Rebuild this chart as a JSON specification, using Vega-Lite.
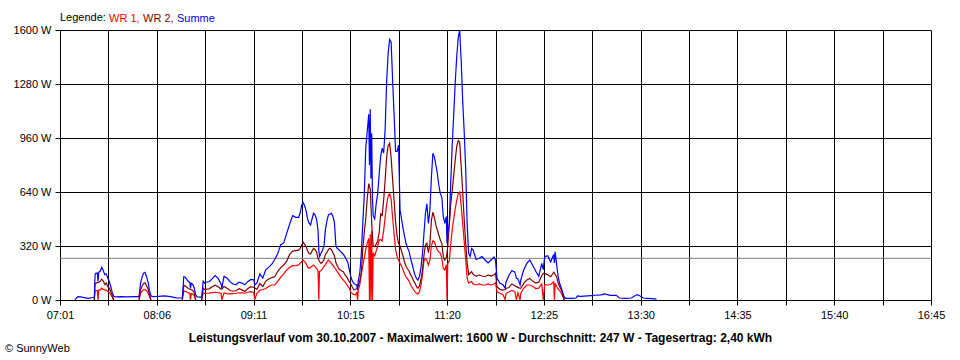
{
 "$schema": "https://vega.github.io/schema/vega-lite/v6.json",
 "width": 871,
 "height": 270,
 "autosize": {"type": "none"},
 "padding": {"left": 60, "top": 30, "right": 29, "bottom": 60},
 "background": "white",
 "config": {
  "font": "Liberation Sans",
  "view": {"stroke": null},
  "axis": {"gridColor": "black", "gridOpacity": 1, "gridWidth": 1, "tickColor": "black", "tickSize": 5, "tickWidth": 1, "domainColor": "black", "domainWidth": 1, "labelColor": "black", "labelFontSize": 11, "labelFont": "Liberation Sans"},
  "axisX": {"labelPadding": 4, "labelFlush": false},
  "axisY": {"labelPadding": 4}
 },
 "title": {"text": "© SunnyWeb", "orient": "bottom", "anchor": "start", "frame": "group", "dx": -55, "offset": 0, "fontSize": 11, "fontWeight": "normal", "color": "black", "font": "Liberation Sans"},
 "data": {"values": [
  {"t":431,"sum":3},{"t":433,"sum":20},{"t":435,"sum":18},{"t":437,"sum":14},{"t":440,"sum":10},{"t":443,"sum":15},
  {"t":444,"wr1":0,"wr2":0,"sum":16},{"t":444.5,"wr1":50,"wr2":95,"sum":150},{"t":445,"wr1":55,"wr2":100,"sum":158},{"t":446,"wr1":57,"wr2":103,"sum":160},{"t":446.5,"wr1":0,"wr2":103,"sum":110},{"t":447,"wr1":60,"wr2":105,"sum":165},{"t":448,"wr1":60,"wr2":112,"sum":170},{"t":449,"wr1":70,"wr2":123,"sum":194},{"t":450,"wr1":63,"wr2":112,"sum":175},{"t":451,"wr1":60,"wr2":92,"sum":150},{"t":452,"wr1":57,"wr2":100,"sum":155},{"t":453,"wr1":50,"wr2":80,"sum":130},{"t":454,"wr1":45,"wr2":70,"sum":112},{"t":455,"wr1":32,"wr2":50,"sum":80},{"t":456,"wr1":18,"wr2":28,"sum":45},{"t":457,"wr1":0,"wr2":0,"sum":22},
  {"t":458,"sum":18},{"t":462,"sum":20},{"t":466,"sum":18},{"t":470,"sum":20},
  {"t":474,"wr1":0,"wr2":0,"sum":20},{"t":475,"wr1":40,"wr2":60,"sum":100},{"t":476,"wr1":53,"wr2":82,"sum":135},{"t":477,"wr1":60,"wr2":98,"sum":158},{"t":478,"wr1":62,"wr2":102,"sum":164},{"t":479,"wr1":55,"wr2":85,"sum":140},{"t":480,"wr1":42,"wr2":66,"sum":108},{"t":481,"wr1":21,"wr2":34,"sum":55},{"t":482,"wr1":0,"wr2":0,"sum":25},
  {"t":483,"sum":20},{"t":487,"sum":22},{"t":491,"sum":24},{"t":495,"sum":20},{"t":499,"sum":13},{"t":502,"sum":12},
  {"t":503,"wr1":0,"wr2":0,"sum":12},{"t":504,"wr1":52,"wr2":86,"sum":138},{"t":505,"wr1":51,"wr2":84,"sum":135},{"t":506,"wr1":47,"wr2":75,"sum":122},{"t":507,"wr1":42,"wr2":68,"sum":110},{"t":508,"wr1":40,"wr2":64,"sum":104},{"t":508.5,"wr1":0,"wr2":64,"sum":70},{"t":509,"wr1":38,"wr2":62,"sum":100},{"t":510,"wr1":35,"wr2":57,"sum":92},{"t":511,"wr1":27,"wr2":43,"sum":70},{"t":512,"wr1":0,"wr2":0,"sum":30},
  {"t":513,"sum":18},{"t":515,"sum":17},
  {"t":516,"wr1":0,"wr2":0,"sum":18},{"t":517,"wr1":42,"wr2":70,"sum":112},{"t":518,"wr1":38,"wr2":62,"sum":100},{"t":519,"wr1":40,"wr2":65,"sum":105},{"t":521,"wr1":41,"wr2":66,"sum":108},{"t":523,"wr1":44,"wr2":78,"sum":125},{"t":525,"wr1":46,"wr2":88,"sum":145},{"t":527,"wr1":43,"wr2":78,"sum":128},{"t":529,"wr1":40,"wr2":65,"sum":95},{"t":529.5,"wr1":0,"wr2":65,"sum":70},{"t":531,"wr1":42,"wr2":80,"sum":140},{"t":533,"wr1":38,"wr2":70,"sum":130},{"t":535,"wr1":36,"wr2":56,"sum":109},{"t":537,"wr1":38,"wr2":52,"sum":95},{"t":539,"wr1":40,"wr2":55,"sum":90},{"t":541,"wr1":43,"wr2":67,"sum":105},{"t":543,"wr1":42,"wr2":60,"sum":100},{"t":545,"wr1":40,"wr2":50,"sum":90},{"t":547,"wr1":46,"wr2":68,"sum":110},{"t":549,"wr1":49,"wr2":79,"sum":122},{"t":551,"wr1":45,"wr2":74,"sum":120},{"t":551.5,"wr1":0,"wr2":72,"sum":90},{"t":553,"wr1":40,"wr2":63,"sum":100},
  {"t":555,"wr1":58,"wr2":98,"sum":155},{"t":557,"wr1":62,"wr2":80,"sum":130},{"t":559,"wr1":68,"wr2":112,"sum":180},{"t":561,"wr1":80,"wr2":125,"sum":195},{"t":563,"wr1":89,"wr2":133,"sum":212},{"t":565,"wr1":89,"wr2":138,"sum":240},{"t":567,"wr1":110,"wr2":170,"sum":275},{"t":569,"wr1":135,"wr2":192,"sum":328},{"t":571,"wr1":155,"wr2":207,"sum":338},{"t":573,"wr1":178,"wr2":230,"sum":395},{"t":575,"wr1":192,"wr2":270,"sum":450},{"t":577,"wr1":205,"wr2":290,"sum":500},{"t":579,"wr1":203,"wr2":293,"sum":490},{"t":581,"wr1":208,"wr2":295,"sum":490},{"t":582,"wr1":217,"wr2":306,"sum":514},{"t":583,"wr1":228,"wr2":325,"sum":560},{"t":584,"wr1":237,"wr2":344,"sum":577},{"t":585,"wr1":228,"wr2":330,"sum":560},{"t":586,"wr1":217,"wr2":316,"sum":530},{"t":587,"wr1":195,"wr2":290,"sum":480},{"t":588,"wr1":188,"wr2":275,"sum":455},{"t":589,"wr1":194,"wr2":272,"sum":445},{"t":590,"wr1":200,"wr2":290,"sum":480},{"t":591,"wr1":207,"wr2":306,"sum":514},{"t":592,"wr1":198,"wr2":298,"sum":505},{"t":593,"wr1":188,"wr2":286,"sum":480},{"t":594,"wr1":175,"wr2":245,"sum":415},{"t":594.5,"wr1":0,"wr2":237,"sum":300},{"t":595,"wr1":168,"wr2":228,"sum":257},{"t":596,"wr1":175,"wr2":217,"sum":277},{"t":597,"wr1":185,"wr2":225,"sum":295},{"t":598,"wr1":198,"wr2":240,"sum":320},{"t":599,"wr1":210,"wr2":270,"sum":420},{"t":600,"wr1":225,"wr2":282,"sum":470},
  {"t":601,"wr1":237,"wr2":300,"sum":505},{"t":602,"wr1":228,"wr2":306,"sum":510},{"t":603,"wr1":217,"wr2":298,"sum":514},{"t":604,"wr1":205,"wr2":280,"sum":495},{"t":605,"wr1":192,"wr2":262,"sum":460},{"t":606,"wr1":182,"wr2":222,"sum":320},{"t":607,"wr1":165,"wr2":200,"sum":305},{"t":608,"wr1":155,"wr2":185,"sum":298},{"t":609,"wr1":140,"wr2":178,"sum":288},{"t":610,"wr1":128,"wr2":172,"sum":280},{"t":611,"wr1":118,"wr2":168,"sum":270},{"t":612,"wr1":108,"wr2":150,"sum":257},{"t":613,"wr1":95,"wr2":140,"sum":240},{"t":614,"wr1":82,"wr2":125,"sum":222},{"t":615,"wr1":70,"wr2":108,"sum":180},{"t":616,"wr1":45,"wr2":95,"sum":138},{"t":617,"wr1":38,"wr2":75,"sum":112},{"t":618,"wr1":32,"wr2":60,"sum":99},{"t":619,"wr1":30,"wr2":62,"sum":92},{"t":620,"wr1":45,"wr2":69,"sum":89},{"t":620.5,"wr1":0,"wr2":75,"sum":60},{"t":621,"wr1":60,"wr2":85,"sum":115},{"t":622,"wr1":89,"wr2":115,"sum":160},{"t":623,"wr1":150,"wr2":160,"sum":270},{"t":624,"wr1":200,"wr2":300,"sum":450},{"t":625,"wr1":250,"wr2":400,"sum":620},{"t":626,"wr1":300,"wr2":480,"sum":900},{"t":627,"wr1":336,"wr2":600,"sum":1000},{"t":628,"wr1":365,"wr2":690,"sum":1100},{"t":628.5,"wr1":0,"wr2":670,"sum":800},{"t":629,"wr1":390,"wr2":660,"sum":1130},{"t":629.5,"wr1":0,"wr2":560,"sum":720},{"t":630,"wr1":410,"wr2":454,"sum":988},{"t":630.5,"wr1":0,"wr2":380,"sum":600},
  {"t":631,"wr1":280,"wr2":320,"sum":500},{"t":632,"wr1":260,"wr2":316,"sum":480},{"t":633,"wr1":290,"wr2":330,"sum":570},{"t":634,"wr1":320,"wr2":350,"sum":630},{"t":635,"wr1":356,"wr2":400,"sum":745},{"t":636,"wr1":358,"wr2":510,"sum":850},{"t":637,"wr1":350,"wr2":500,"sum":900},{"t":638,"wr1":410,"wr2":590,"sum":870},{"t":639,"wr1":490,"wr2":711,"sum":1010},{"t":640,"wr1":565,"wr2":845,"sum":1290},{"t":641,"wr1":615,"wr2":915,"sum":1460},{"t":642,"wr1":632,"wr2":929,"sum":1545},{"t":643,"wr1":600,"wr2":845,"sum":1530},{"t":644,"wr1":490,"wr2":715,"sum":1310},{"t":645,"wr1":390,"wr2":590,"sum":1100},{"t":646,"wr1":300,"wr2":460,"sum":880},{"t":647,"wr1":260,"wr2":380,"sum":880},{"t":648,"wr1":235,"wr2":336,"sum":918},{"t":649,"wr1":217,"wr2":318,"sum":533},{"t":650,"wr1":200,"wr2":290,"sum":480},
  {"t":651,"wr1":180,"wr2":260,"sum":425},{"t":652,"wr1":155,"wr2":225,"sum":380},{"t":653,"wr1":138,"wr2":200,"sum":336},{"t":654,"wr1":125,"wr2":185,"sum":310},{"t":655,"wr1":112,"wr2":172,"sum":290},{"t":656,"wr1":90,"wr2":150,"sum":250},{"t":657,"wr1":77,"wr2":138,"sum":217},{"t":658,"wr1":62,"wr2":115,"sum":180},{"t":659,"wr1":50,"wr2":100,"sum":148},{"t":660,"wr1":40,"wr2":80,"sum":128},{"t":661,"wr1":36,"wr2":70,"sum":118},{"t":662,"wr1":49,"wr2":83,"sum":140},{"t":663,"wr1":85,"wr2":120,"sum":190},{"t":664,"wr1":150,"wr2":175,"sum":270},{"t":665,"wr1":230,"wr2":260,"sum":390},{"t":666,"wr1":245,"wr2":325,"sum":510},{"t":667,"wr1":237,"wr2":336,"sum":570},{"t":668,"wr1":207,"wr2":280,"sum":454},{"t":669,"wr1":235,"wr2":330,"sum":530},{"t":670,"wr1":320,"wr2":470,"sum":720},{"t":671,"wr1":350,"wr2":520,"sum":870},{"t":672,"wr1":345,"wr2":490,"sum":850},{"t":673,"wr1":320,"wr2":445,"sum":800},{"t":674,"wr1":296,"wr2":415,"sum":750},{"t":675,"wr1":285,"wr2":385,"sum":680},{"t":676,"wr1":277,"wr2":355,"sum":630},{"t":677,"wr1":250,"wr2":336,"sum":610},{"t":678,"wr1":188,"wr2":257,"sum":494},{"t":679,"wr1":178,"wr2":237,"sum":454},{"t":680,"wr1":210,"wr2":250,"sum":494},
  {"t":680.5,"wr1":0,"wr2":280,"sum":336},{"t":681,"wr1":217,"wr2":320,"sum":400},{"t":682,"wr1":230,"wr2":440,"sum":450},{"t":683,"wr1":330,"wr2":570,"sum":700},{"t":684,"wr1":420,"wr2":650,"sum":920},{"t":685,"wr1":480,"wr2":740,"sum":1100},{"t":686,"wr1":540,"wr2":830,"sum":1290},{"t":687,"wr1":590,"wr2":910,"sum":1440},{"t":688,"wr1":630,"wr2":945,"sum":1555},{"t":689,"wr1":640,"wr2":935,"sum":1600},{"t":689.5,"wr1":600,"wr2":860,"sum":1500},{"t":690,"wr1":560,"wr2":790,"sum":1420},{"t":691,"wr1":450,"wr2":640,"sum":1180},{"t":692,"wr1":350,"wr2":480,"sum":1000},{"t":693,"wr1":240,"wr2":340,"sum":780},{"t":694,"wr1":130,"wr2":220,"sum":450},{"t":695,"wr1":100,"wr2":150,"sum":275},{"t":696,"wr1":105,"wr2":160,"sum":258},{"t":697,"wr1":109,"wr2":168,"sum":305},{"t":698,"wr1":95,"wr2":152,"sum":296},{"t":700,"wr1":89,"wr2":140,"sum":240},{"t":702,"wr1":95,"wr2":148,"sum":247},{"t":704,"wr1":89,"wr2":142,"sum":257},{"t":706,"wr1":89,"wr2":138,"sum":237},{"t":708,"wr1":95,"wr2":148,"sum":220},{"t":710,"wr1":89,"wr2":142,"sum":237},{"t":712,"wr1":95,"wr2":150,"sum":255},{"t":713,"wr1":103,"wr2":158,"sum":237},{"t":714,"wr1":49,"wr2":79,"sum":128},{"t":716,"wr1":40,"wr2":63,"sum":99},{"t":718,"wr1":32,"wr2":59,"sum":90},{"t":719.5,"wr1":0,"wr2":62,"sum":70},{"t":720,"wr1":38,"wr2":68,"sum":105},
  {"t":722,"wr1":47,"wr2":74,"sum":145},{"t":724,"wr1":57,"wr2":95,"sum":175},{"t":726,"wr1":50,"wr2":85,"sum":165},{"t":727,"wr1":0,"wr2":79,"sum":130},{"t":728,"wr1":42,"wr2":75,"sum":125},{"t":729.5,"wr1":0,"wr2":69,"sum":90},{"t":730,"wr1":42,"wr2":70,"sum":120},{"t":732,"wr1":70,"wr2":100,"sum":180},{"t":734,"wr1":89,"wr2":118,"sum":217},{"t":736,"wr1":89,"wr2":128,"sum":237},{"t":738,"wr1":82,"wr2":112,"sum":205},{"t":740,"wr1":68,"wr2":100,"sum":170},{"t":742,"wr1":70,"wr2":105,"sum":140},{"t":744,"wr1":95,"wr2":145,"sum":217},{"t":745,"wr1":0,"wr2":158,"sum":180},{"t":746,"wr1":92,"wr2":158,"sum":257},{"t":748,"wr1":89,"wr2":150,"sum":262},{"t":750,"wr1":92,"wr2":138,"sum":225},{"t":752,"wr1":108,"wr2":165,"sum":270},{"t":752.5,"wr1":0,"wr2":160,"sum":220},{"t":753,"wr1":100,"wr2":150,"sum":286},{"t":754,"wr1":80,"wr2":138,"sum":210},{"t":755,"wr1":65,"wr2":100,"sum":140},{"t":756,"wr1":56,"wr2":78,"sum":99},{"t":757,"wr1":42,"wr2":62,"sum":75},{"t":758,"wr1":25,"wr2":42,"sum":45},{"t":759,"wr1":0,"wr2":0,"sum":18},
  {"t":760,"sum":10},{"t":765,"sum":10},{"t":767,"sum":12},{"t":768,"sum":24},{"t":770,"sum":22},{"t":775,"sum":25},{"t":780,"sum":28},{"t":784,"sum":30},{"t":786,"sum":36},{"t":790,"sum":28},{"t":794,"sum":28},{"t":796,"sum":12},{"t":800,"sum":10},{"t":804,"sum":12},{"t":806,"sum":22},{"t":808,"sum":32},{"t":810,"sum":24},{"t":812,"sum":12},{"t":815,"sum":10},{"t":818,"sum":8},{"t":821,"sum":5}
 ]},
 "layer": [
  {
   "data": {"values": [{"avg": 247}]},
   "mark": {"type": "rule", "color": "#808080", "strokeWidth": 1},
   "encoding": {
    "y": {"field": "avg", "type": "quantitative", "scale": {"domain": [0, 1600], "nice": false, "zero": true},
     "axis": {"title": null, "values": [0, 320, 640, 960, 1280, 1600], "labelExpr": "datum.value + ' W'", "grid": true}}
   }
  },
  {
   "encoding": {
    "x": {"field": "t", "type": "quantitative", "scale": {"domain": [421, 1005], "nice": false, "zero": false},
     "axis": {"values": [421, 453.444, 485.889, 518.333, 550.778, 583.222, 615.667, 648.111, 680.556, 713, 745.444, 777.889, 810.333, 842.778, 875.222, 907.667, 940.111, 972.556, 1005],
      "labelExpr": "['07:01','','08:06','','09:11','','10:15','','11:20','','12:25','','13:30','','14:35','','15:40','','16:45'][round((datum.value-421)/32.4444)]",
      "grid": true,
      "title": "Leistungsverlauf vom 30.10.2007 - Maximalwert: 1600 W - Durchschnitt: 247 W - Tagesertrag: 2,40 kWh",
      "titleFontWeight": "bold", "titleFontSize": 12, "titleColor": "black", "titleFont": "Liberation Sans",
      "titleX": 420, "titleY": 37, "titleAlign": "center", "titleBaseline": "middle"}}
   },
   "layer": [
    {"mark": {"type": "line", "strokeWidth": 1.2},
     "encoding": {
      "y": {"field": "wr1", "type": "quantitative", "axis": {"title": null}},
      "color": {"datum": "WR 1", "type": "nominal",
       "scale": {"domain": ["WR 1", "WR 2", "Summe"], "range": ["#ff0000", "#800000", "#0000ff"]},
       "legend": {"orient": "top", "direction": "horizontal", "title": "Legende:", "titleOrient": "left", "titleFontSize": 11, "titleFontWeight": "normal", "titleColor": "black", "titleFont": "Liberation Sans", "titlePadding": 3,
        "labelFontSize": 11, "labelFont": "Liberation Sans", "labelOffset": -11, "symbolSize": 0.0001, "symbolStrokeWidth": 0, "symbolOpacity": 0, "columnPadding": 3, "offset": 6, "padding": 0,
        "labelExpr": "datum.label == 'Summe' ? 'Summe' : datum.label + ','",
        "encode": {"labels": {"update": {"fill": {"scale": "color", "field": "value"}}}}}}
     }},
    {"mark": {"type": "line", "strokeWidth": 1.2},
     "encoding": {"y": {"field": "wr2", "type": "quantitative", "axis": {"title": null}}, "color": {"datum": "WR 2", "type": "nominal"}}},
    {"mark": {"type": "line", "strokeWidth": 1.2},
     "encoding": {"y": {"field": "sum", "type": "quantitative", "axis": {"title": null}}, "color": {"datum": "Summe", "type": "nominal"}}}
   ]
  }
 ]
}
